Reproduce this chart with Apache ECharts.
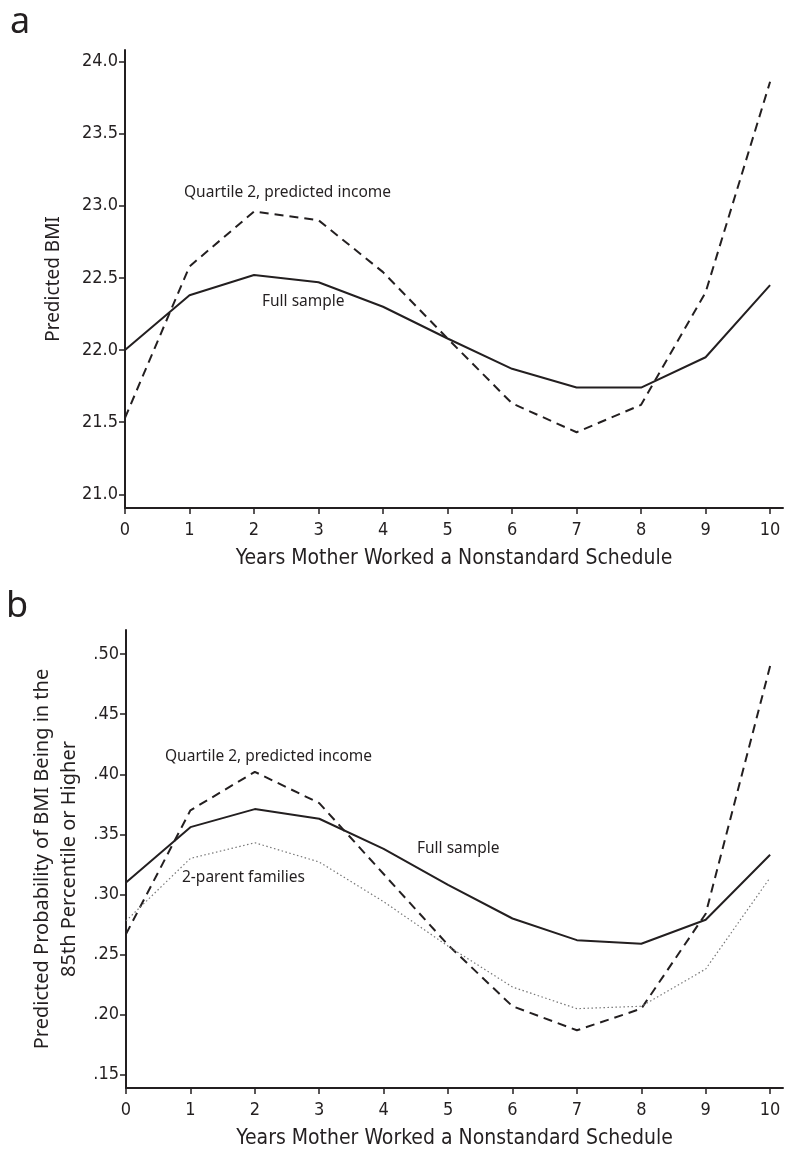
<!DOCTYPE html>
<html>
<head>
<meta charset="utf-8">
<script src="https://cdn.jsdelivr.net/npm/echarts@6/dist/echarts.min.js"></script>
<style>
	html, body { margin: 0; padding: 0; background: #fff; }
	#chart-box { width: 786px; height: 1150px; }
</style>
</head>
<body>
<div id="chart-box"></div>
<script>
// x: years mother worked a nonstandard schedule
let years = [0, 1, 2, 3, 4, 5, 6, 7, 8, 9, 10]

// panel a: predicted BMI
let bmiFullSample = [22.0, 22.38, 22.52, 22.47, 22.30, 22.08, 21.87, 21.74, 21.74, 21.95, 22.45]
let bmiQuartile2 = [21.53, 22.58, 22.96, 22.90, 22.54, 22.08, 21.63, 21.43, 21.62, 22.40, 23.86]
let bmiTicks = [21.0, 21.5, 22.0, 22.5, 23.0, 23.5, 24.0]

// panel b: predicted probability of BMI >= 85th percentile
let probFullSample = [0.310, 0.356, 0.371, 0.363, 0.338, 0.308, 0.280, 0.262, 0.259, 0.279, 0.333]
let probQuartile2 = [0.267, 0.370, 0.402, 0.376, 0.317, 0.258, 0.207, 0.187, 0.205, 0.284, 0.490]
let probTwoParent = [0.278, 0.330, 0.343, 0.327, 0.294, 0.257, 0.223, 0.205, 0.207, 0.238, 0.314]
let probTicks = [0.15, 0.20, 0.25, 0.30, 0.35, 0.40, 0.45, 0.50]

let ink = "#231f20"
let tickFont = "'DejaVu Sans Condensed', 'Liberation Sans Narrow', 'DejaVu Sans', sans-serif"
let textFont = "'Noto Sans', 'Open Sans', sans-serif"

function pairs(values) {
	return years.map(function (x, i) {
		return [x, values[i]]
	})
}

function makeXAxis(gridIndex) {
	return {
		type: "value",
		gridIndex: gridIndex,
		min: 0,
		max: 10.2,
		name: "Years Mother Worked a Nonstandard Schedule",
		nameLocation: "middle",
		nameGap: 40,
		nameTextStyle: { fontFamily: tickFont, fontSize: 21, color: ink },
		axisLine: { onZero: false, lineStyle: { color: ink, width: 2 } },
		axisTick: { customValues: years, length: 6, lineStyle: { color: ink, width: 1.5 } },
		axisLabel: { customValues: years, fontFamily: tickFont, fontSize: 18, color: ink, margin: 13 },
		splitLine: { show: false }
	}
}

function makeYAxis(gridIndex, min, max, ticks, name, nameGap, fontSize, fmt) {
	return {
		type: "value",
		gridIndex: gridIndex,
		min: min,
		max: max,
		name: name,
		nameLocation: "middle",
		nameGap: nameGap,
		nameTextStyle: { fontFamily: textFont, fontSize: fontSize, color: ink, lineHeight: 27 },
		axisLine: { show: true, lineStyle: { color: ink, width: 2 } },
		axisTick: { show: true, customValues: ticks, length: 6, lineStyle: { color: ink, width: 1.5 } },
		axisLabel: { customValues: ticks, fontFamily: tickFont, fontSize: 18, color: ink, margin: 7, formatter: fmt },
		splitLine: { show: false }
	}
}

function lineSeries(name, idx, values, style) {
	return {
		name: name,
		type: "line",
		xAxisIndex: idx,
		yAxisIndex: idx,
		data: pairs(values),
		showSymbol: false,
		symbol: "none",
		lineStyle: style,
		z: 3
	}
}

let solid = { color: ink, width: 2, type: "solid" }
let dashed = { color: ink, width: 2, type: [9, 6] }
let dotted = { color: "#777", width: 1.2, type: [1.5, 2.5] }

function note(text, x, y) {
	return {
		type: "text",
		left: x,
		top: y,
		style: { text: text, fontFamily: textFont, fontSize: 15.5, fill: ink }
	}
}

let chart = echarts.init(document.getElementById("chart-box"), null, { renderer: "canvas" })

let option = {
	animation: false,
	backgroundColor: "#fff",
	grid: [
		{ left: 125, top: 50, width: 658, height: 458 },
		{ left: 126, top: 630, width: 657, height: 458 }
	],
	xAxis: [makeXAxis(0), makeXAxis(1)],
	yAxis: [
		makeYAxis(0, 20.905, 24.08, bmiTicks, "Predicted BMI", 58, 19, function (v) {
			return v.toFixed(1)
		}),
		makeYAxis(1, 0.139, 0.52, probTicks, "Predicted Probability of BMI Being in the\n85th Percentile or Higher", 36, 20, function (v) {
			return v.toFixed(2).replace(/^0/, "")
		})
	],
	series: [
		lineSeries("Full sample", 0, bmiFullSample, solid),
		lineSeries("Quartile 2, predicted income", 0, bmiQuartile2, dashed),
		lineSeries("Full sample", 1, probFullSample, solid),
		lineSeries("Quartile 2, predicted income", 1, probQuartile2, dashed),
		lineSeries("2-parent families", 1, probTwoParent, dotted)
	],
	graphic: [
		{ type: "text", left: 10, top: 5, style: { text: "a", fontFamily: textFont, fontSize: 36, fill: ink } },
		{ type: "text", left: 6, top: 589, style: { text: "b", fontFamily: textFont, fontSize: 36, fill: ink } },
		note("Quartile 2, predicted income", 184, 185),
		note("Full sample", 262, 294),
		note("Quartile 2, predicted income", 165, 749),
		note("Full sample", 417, 841),
		note("2-parent families", 182, 870)
	]
}
chart.setOption(option)
</script>
</body>
</html>
